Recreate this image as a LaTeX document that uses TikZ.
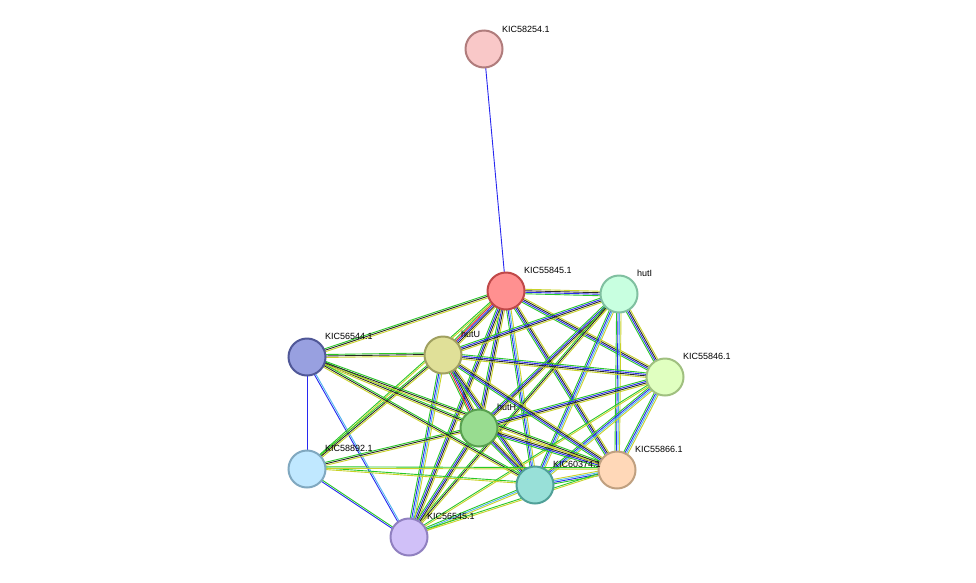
\documentclass[tikz,border=0pt]{standalone}
\usepackage{fontspec}
\setmainfont{Liberation Sans}
\usetikzlibrary{calc,backgrounds}
\definecolor{eg}{RGB}{40,200,40}
\definecolor{eb}{RGB}{40,40,240}
\definecolor{ey}{RGB}{200,210,40}
\definecolor{ek}{RGB}{40,40,40}
\definecolor{ec}{RGB}{80,180,240}
\definecolor{er}{RGB}{230,40,40}
\newcommand\ed[3]{%
  \foreach[count=\i] \c in {#3}{%
    \pgfmathsetmacro\o{(\i-2.5)*1.5}%
    \draw[\c,line width=0.9pt] ($(#1.center)!\o pt!90:(#2.center)$) -- ($(#2.center)!\o pt!-90:(#1.center)$);
  }}
\begin{document}
\begin{tikzpicture}[x=1pt,y=-1pt,
  nd/.style={circle,minimum size=37pt,inner sep=0pt,line width=2pt},
  lb/.style={font=\fontsize{9}{10}\selectfont,anchor=south west,inner sep=1pt}]
\useasboundingbox (0,0) rectangle (976,582);
\node[nd,fill={rgb,255:red,249;green,200;blue,200},draw={rgb,255:red,176;green,124;blue,124}] (a) at (484,49) {};
\node[nd,fill={rgb,255:red,255;green,144;blue,144},draw={rgb,255:red,192;green,72;blue,72}] (b) at (506,291) {};
\node[nd,fill={rgb,255:red,200;green,255;blue,224},draw={rgb,255:red,128;green,192;blue,160}] (c) at (619,294) {};
\node[nd,fill={rgb,255:red,224;green,255;blue,192},draw={rgb,255:red,160;green,192;blue,128}] (d) at (665,377) {};
\node[nd,fill={rgb,255:red,152;green,160;blue,224},draw={rgb,255:red,80;green,88;blue,152}] (e) at (307,357) {};
\node[nd,fill={rgb,255:red,224;green,224;blue,152},draw={rgb,255:red,160;green,160;blue,96}] (f) at (443,355) {};
\node[nd,fill={rgb,255:red,152;green,220;blue,144},draw={rgb,255:red,88;green,160;blue,80}] (g) at (479,428) {};
\node[nd,fill={rgb,255:red,192;green,232;blue,255},draw={rgb,255:red,128;green,168;blue,192}] (h) at (307,469) {};
\node[nd,fill={rgb,255:red,152;green,224;blue,216},draw={rgb,255:red,80;green,160;blue,152}] (i) at (535,485) {};
\node[nd,fill={rgb,255:red,255;green,216;blue,184},draw={rgb,255:red,192;green,160;blue,128}] (j) at (617,470) {};
\node[nd,fill={rgb,255:red,208;green,192;blue,248},draw={rgb,255:red,144;green,128;blue,192}] (k) at (409,537) {};
\node[lb] (la) at (501,34) {KIC58254.1};
\node[lb] (lb) at (523,275) {KIC55845.1};
\node[lb] (lc) at (636,278) {hutI};
\node[lb] (ld) at (682,361) {KIC55846.1};
\node[lb] (le) at (324,341) {KIC56544.1};
\node[lb] (lf) at (460,339) {hutU};
\node[lb] (lg) at (496,412) {hutH};
\node[lb] (lh) at (324,453) {KIC58892.1};
\node[lb] (li) at (552,469) {KIC60374.1};
\node[lb] (lj) at (634,454) {KIC55866.1};
\node[lb] (lk) at (426,521) {KIC56545.1};
\begin{pgfonlayer}{background}
\fill[white] (0,0) rectangle (976,582);
\draw[color={rgb,255:red,40;green,40;blue,240},line width=0.9pt] (a.center) -- (b.center);
\draw[color={rgb,255:red,40;green,40;blue,240},line width=0.9pt] (e.center) -- (h.center);
\ed{h}{k}{eb,eg}
\ed{e}{k}{eb,ec}
\ed{b}{c}{eg,eb,ek,ey}
\ed{b}{d}{eg,eb,ek,ey}
\ed{b}{f}{eg,er,eb,ek,ey}
\ed{b}{g}{eg,eb,ek,ey}
\ed{b}{i}{eg,eb,ec,ey}
\ed{b}{j}{eg,eb,ek,ey}
\ed{b}{k}{eg,eb,ek,ey}
\ed{b}{e}{eg,ek,ey}
\ed{b}{h}{eg,ey}
\ed{c}{d}{eg,eb,ek,ey}
\ed{c}{f}{eg,eb,ek,ey}
\ed{c}{g}{eg,eb,ek,ey}
\ed{c}{i}{eg,eb,ec,ey}
\ed{c}{j}{eg,eb,ec,ey}
\ed{c}{k}{eg,ek,ey}
\ed{d}{f}{eg,eb,ek,ey}
\ed{d}{g}{eg,eb,ek,ey}
\ed{d}{i}{eg,eb,ec,ey}
\ed{d}{j}{eg,eb,ec,ey}
\ed{d}{k}{eg,ey}
\ed{f}{g}{eg,er,eb,ek,ey}
\ed{f}{i}{eg,eb,ek,ey}
\ed{f}{j}{eg,eb,ek,ey}
\ed{f}{k}{eg,eb,ec,ey}
\ed{f}{e}{eg,ek,ey}
\ed{f}{h}{eg,ek,ey}
\ed{g}{i}{eg,eb,ek,ey}
\ed{g}{j}{eg,eb,ek,ey}
\ed{g}{k}{eg,eb,ek,ey}
\ed{g}{e}{eg,ek,ey}
\ed{g}{h}{eg,ek,ey}
\ed{i}{j}{eg,eb,ec,ey}
\ed{i}{k}{eg,ec,ey}
\ed{i}{e}{eg,ek,ey}
\ed{i}{h}{eg,ey}
\ed{j}{e}{eg,ek,ey}
\ed{j}{h}{eg,ey}
\ed{j}{k}{eg,ey}
\end{pgfonlayer}
\end{tikzpicture}
\end{document}
